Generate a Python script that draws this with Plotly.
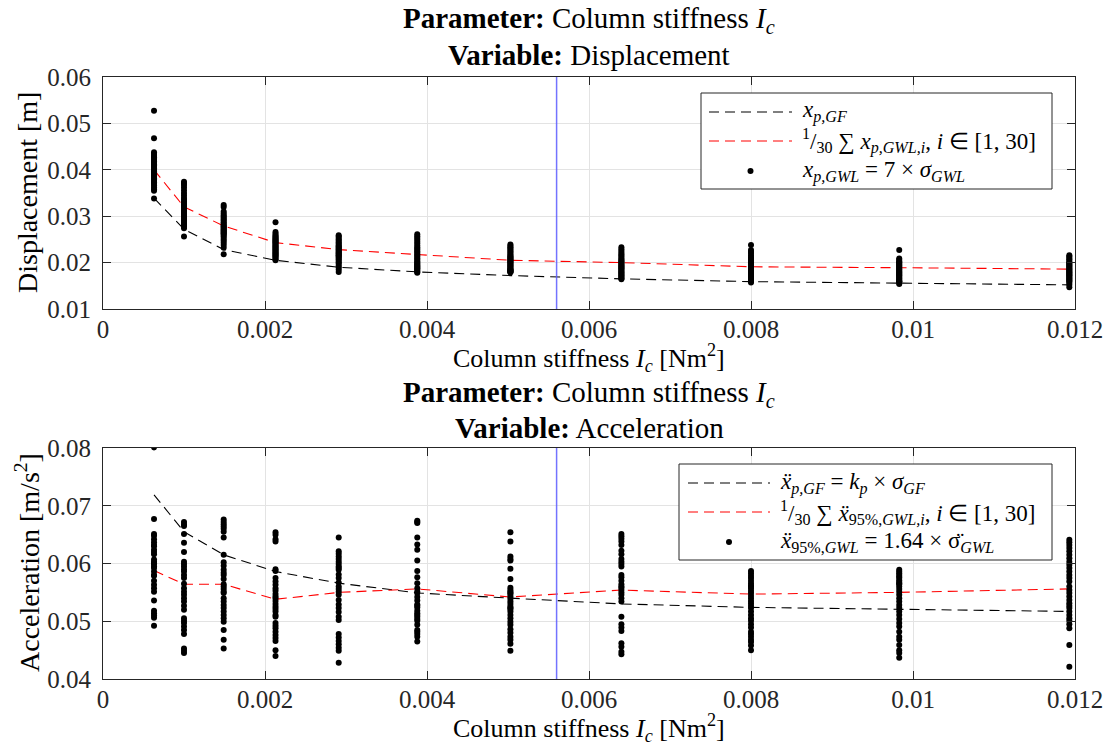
import plotly.graph_objects as go

# ---------------- data ----------------
stiffness = [0.00063, 0.00100, 0.00149, 0.00213, 0.00291, 0.00388, 0.00503, 0.00640, 0.00800, 0.00983, 0.01193]

disp_gf = [0.0339, 0.0272, 0.0228, 0.0205, 0.0190, 0.0180, 0.0172, 0.0165, 0.0159, 0.0155, 0.0152]
disp_mean = [0.0400, 0.0320, 0.0279, 0.0243, 0.0228, 0.0217, 0.0205, 0.0200, 0.0191, 0.0189, 0.0186]

disp_gwl = [
    [0.0527, 0.0468, 0.0438, 0.0434, 0.0430, 0.0427, 0.0424, 0.0421, 0.0418, 0.0415, 0.0412, 0.0409, 0.0406, 0.0403, 0.0400,
     0.0397, 0.0394, 0.0391, 0.0388, 0.0385, 0.0382, 0.0379, 0.0376, 0.0373, 0.0370, 0.0366, 0.0362, 0.0358, 0.0355, 0.0338],
    [0.0374, 0.0371, 0.0367, 0.0362, 0.0356, 0.0350, 0.0345, 0.0340, 0.0336, 0.0332, 0.0329, 0.0326, 0.0323, 0.0320, 0.0317,
     0.0314, 0.0311, 0.0308, 0.0305, 0.0302, 0.0299, 0.0296, 0.0293, 0.0290, 0.0287, 0.0284, 0.0281, 0.0278, 0.0274, 0.0256],
    [0.0324, 0.0320, 0.0310, 0.0306, 0.0302, 0.0299, 0.0296, 0.0293, 0.0290, 0.0287, 0.0284, 0.0281, 0.0279, 0.0277, 0.0275,
     0.0273, 0.0271, 0.0269, 0.0267, 0.0265, 0.0263, 0.0261, 0.0258, 0.0255, 0.0251, 0.0247, 0.0243, 0.0238, 0.0232, 0.0218],
    [0.0287, 0.0266, 0.0262, 0.0259, 0.0256, 0.0254, 0.0252, 0.0250, 0.0248, 0.0246, 0.0244, 0.0242, 0.0240, 0.0238, 0.0236,
     0.0234, 0.0232, 0.0230, 0.0228, 0.0226, 0.0224, 0.0222, 0.0220, 0.0218, 0.0216, 0.0214, 0.0212, 0.0210, 0.0207, 0.0205],
    [0.0259, 0.0256, 0.0253, 0.0250, 0.0247, 0.0244, 0.0241, 0.0238, 0.0236, 0.0234, 0.0232, 0.0230, 0.0228, 0.0226, 0.0224,
     0.0222, 0.0220, 0.0218, 0.0216, 0.0214, 0.0212, 0.0210, 0.0207, 0.0204, 0.0201, 0.0198, 0.0194, 0.0190, 0.0185, 0.0180],
    [0.0261, 0.0257, 0.0253, 0.0249, 0.0245, 0.0241, 0.0237, 0.0233, 0.0230, 0.0227, 0.0224, 0.0221, 0.0218, 0.0215, 0.0212,
     0.0209, 0.0206, 0.0203, 0.0200, 0.0198, 0.0196, 0.0194, 0.0192, 0.0190, 0.0188, 0.0186, 0.0184, 0.0182, 0.0180, 0.0178],
    [0.0239, 0.0236, 0.0233, 0.0230, 0.0227, 0.0224, 0.0221, 0.0218, 0.0215, 0.0213, 0.0211, 0.0209, 0.0207, 0.0205, 0.0203,
     0.0201, 0.0199, 0.0197, 0.0195, 0.0193, 0.0191, 0.0189, 0.0187, 0.0185, 0.0184, 0.0183, 0.0182, 0.0181, 0.0180, 0.0179],
    [0.0233, 0.0229, 0.0225, 0.0221, 0.0218, 0.0215, 0.0212, 0.0209, 0.0206, 0.0204, 0.0202, 0.0200, 0.0198, 0.0196, 0.0194,
     0.0192, 0.0190, 0.0188, 0.0186, 0.0184, 0.0182, 0.0180, 0.0178, 0.0176, 0.0174, 0.0172, 0.0170, 0.0168, 0.0166, 0.0164],
    [0.0238, 0.0227, 0.0223, 0.0219, 0.0215, 0.0211, 0.0208, 0.0205, 0.0202, 0.0199, 0.0197, 0.0195, 0.0193, 0.0191, 0.0189,
     0.0187, 0.0185, 0.0183, 0.0181, 0.0179, 0.0177, 0.0175, 0.0173, 0.0171, 0.0169, 0.0167, 0.0165, 0.0163, 0.0160, 0.0157],
    [0.0227, 0.0209, 0.0206, 0.0203, 0.0201, 0.0199, 0.0197, 0.0195, 0.0193, 0.0191, 0.0189, 0.0187, 0.0185, 0.0183, 0.0181,
     0.0179, 0.0177, 0.0175, 0.0173, 0.0171, 0.0169, 0.0167, 0.0165, 0.0163, 0.0161, 0.0160, 0.0159, 0.0158, 0.0156, 0.0154],
    [0.0216, 0.0213, 0.0210, 0.0207, 0.0204, 0.0201, 0.0199, 0.0197, 0.0195, 0.0193, 0.0191, 0.0189, 0.0187, 0.0185, 0.0183,
     0.0181, 0.0179, 0.0177, 0.0175, 0.0173, 0.0171, 0.0169, 0.0167, 0.0165, 0.0163, 0.0161, 0.0159, 0.0156, 0.0152, 0.0147],
]

acc_gf = [0.0719, 0.0655, 0.0615, 0.0586, 0.0566, 0.0549, 0.0540, 0.0530, 0.0524, 0.0521, 0.0517]
acc_mean = [0.0588, 0.0564, 0.0564, 0.0538, 0.0550, 0.0556, 0.0542, 0.0554, 0.0547, 0.0550, 0.0556]

acc_gwl = [
    [0.0801, 0.0677, 0.0651, 0.0648, 0.0642, 0.0637, 0.0632, 0.0630, 0.0624, 0.0620, 0.0616, 0.0607, 0.0603, 0.0600, 0.0599,
     0.0595, 0.0592, 0.0586, 0.0580, 0.0579, 0.0570, 0.0563, 0.0557, 0.0551, 0.0536, 0.0518, 0.0514, 0.0510, 0.0506, 0.0492],
    [0.0672, 0.0668, 0.0665, 0.0651, 0.0636, 0.0620, 0.0603, 0.0599, 0.0595, 0.0590, 0.0586, 0.0580, 0.0575, 0.0565, 0.0557,
     0.0551, 0.0546, 0.0540, 0.0534, 0.0527, 0.0520, 0.0505, 0.0501, 0.0497, 0.0491, 0.0485, 0.0478, 0.0453, 0.0449, 0.0445],
    [0.0676, 0.0672, 0.0668, 0.0664, 0.0660, 0.0655, 0.0645, 0.0615, 0.0602, 0.0596, 0.0589, 0.0584, 0.0580, 0.0573, 0.0564,
     0.0560, 0.0556, 0.0551, 0.0549, 0.0540, 0.0534, 0.0528, 0.0523, 0.0517, 0.0511, 0.0505, 0.0499, 0.0485, 0.0468, 0.0453],
    [0.0654, 0.0650, 0.0642, 0.0638, 0.0590, 0.0587, 0.0575, 0.0569, 0.0563, 0.0557, 0.0553, 0.0547, 0.0543, 0.0540, 0.0535,
     0.0530, 0.0525, 0.0521, 0.0517, 0.0511, 0.0508, 0.0497, 0.0492, 0.0488, 0.0482, 0.0476, 0.0471, 0.0466, 0.0450, 0.0440],
    [0.0645, 0.0621, 0.0617, 0.0612, 0.0608, 0.0603, 0.0599, 0.0595, 0.0592, 0.0589, 0.0581, 0.0575, 0.0567, 0.0560, 0.0556,
     0.0551, 0.0546, 0.0537, 0.0529, 0.0523, 0.0516, 0.0508, 0.0502, 0.0478, 0.0472, 0.0466, 0.0460, 0.0454, 0.0449, 0.0428],
    [0.0674, 0.0672, 0.0670, 0.0645, 0.0633, 0.0624, 0.0605, 0.0587, 0.0576, 0.0566, 0.0557, 0.0551, 0.0549, 0.0542, 0.0536,
     0.0529, 0.0527, 0.0524, 0.0518, 0.0514, 0.0511, 0.0508, 0.0504, 0.0501, 0.0494, 0.0485, 0.0482, 0.0478, 0.0473, 0.0465],
    [0.0654, 0.0638, 0.0612, 0.0608, 0.0605, 0.0591, 0.0573, 0.0558, 0.0554, 0.0551, 0.0549, 0.0547, 0.0543, 0.0539, 0.0534,
     0.0530, 0.0525, 0.0523, 0.0521, 0.0517, 0.0511, 0.0505, 0.0499, 0.0494, 0.0486, 0.0480, 0.0473, 0.0468, 0.0461, 0.0449],
    [0.0651, 0.0647, 0.0643, 0.0638, 0.0632, 0.0622, 0.0616, 0.0608, 0.0603, 0.0599, 0.0595, 0.0580, 0.0576, 0.0570, 0.0564,
     0.0560, 0.0558, 0.0554, 0.0550, 0.0546, 0.0540, 0.0534, 0.0508, 0.0495, 0.0489, 0.0483, 0.0462, 0.0456, 0.0447, 0.0443],
    [0.0587, 0.0583, 0.0579, 0.0575, 0.0570, 0.0566, 0.0562, 0.0560, 0.0557, 0.0553, 0.0549, 0.0544, 0.0540, 0.0535, 0.0531,
     0.0527, 0.0523, 0.0517, 0.0511, 0.0505, 0.0501, 0.0495, 0.0489, 0.0482, 0.0478, 0.0473, 0.0468, 0.0464, 0.0458, 0.0450],
    [0.0589, 0.0586, 0.0583, 0.0580, 0.0577, 0.0575, 0.0571, 0.0568, 0.0566, 0.0564, 0.0560, 0.0556, 0.0551, 0.0546, 0.0540,
     0.0534, 0.0528, 0.0523, 0.0517, 0.0511, 0.0504, 0.0497, 0.0491, 0.0482, 0.0473, 0.0468, 0.0459, 0.0450, 0.0445, 0.0437],
    [0.0641, 0.0637, 0.0632, 0.0627, 0.0621, 0.0615, 0.0609, 0.0603, 0.0598, 0.0592, 0.0586, 0.0580, 0.0575, 0.0569, 0.0560,
     0.0554, 0.0549, 0.0543, 0.0537, 0.0531, 0.0527, 0.0523, 0.0517, 0.0511, 0.0505, 0.0501, 0.0495, 0.0488, 0.0459, 0.0421],
]

ref_stiffness = 0.0056

x_ticks = [0, 0.002, 0.004, 0.006, 0.008, 0.010, 0.012]
x_ticklabels = ["0", "0.002", "0.004", "0.006", "0.008", "0.01", "0.012"]
disp_ticks = [0.01, 0.02, 0.03, 0.04, 0.05, 0.06]
disp_ticklabels = ["0.01", "0.02", "0.03", "0.04", "0.05", "0.06"]
acc_ticks = [0.04, 0.05, 0.06, 0.07, 0.08]
acc_ticklabels = ["0.04", "0.05", "0.06", "0.07", "0.08"]

disp_legend = [
    "<i>x</i><sub><i>p,GF</i></sub>",
    "<sup>1</sup>/<sub>30</sub> ∑ <i>x</i><sub><i>p,GWL,i</i></sub>, <i>i</i> ∈ [1, 30]",
    "<i>x</i><sub><i>p,GWL</i></sub> = 7 × <i>σ</i><sub><i>GWL</i></sub>",
]
acc_legend = [
    "<i>ẍ</i><sub><i>p,GF</i></sub> = <i>k</i><sub><i>p</i></sub> × <i>σ</i><sub><i>GF</i></sub>",
    "<sup>1</sup>/<sub>30</sub> ∑ <i>ẍ</i><sub>95%,<i>GWL,i</i></sub>, <i>i</i> ∈ [1, 30]",
    "<i>ẍ</i><sub>95%,<i>GWL</i></sub> = 1.64 × σ̈<sub><i>GWL</i></sub>",
]

# ---------------- figure ----------------
FONT = "Liberation Serif"
DASH = "10px,6px"
W, H = 1110, 746

fig = go.Figure()

def scatter_xy(values):
    xs, ys = [], []
    for xv, col in zip(stiffness, values):
        xs += [xv] * len(col)
        ys += col
    return xs, ys

# top subplot
fig.add_trace(go.Scatter(x=stiffness, y=disp_gf, mode="lines", xaxis="x", yaxis="y",
                         line=dict(color="black", width=1.1, dash=DASH), name=disp_legend[0]))
fig.add_trace(go.Scatter(x=stiffness, y=disp_mean, mode="lines", xaxis="x", yaxis="y",
                         line=dict(color="red", width=1.1, dash=DASH), name=disp_legend[1]))
sx, sy = scatter_xy(disp_gwl)
fig.add_trace(go.Scatter(x=sx, y=sy, mode="markers", xaxis="x", yaxis="y",
                         marker=dict(color="black", size=6), name=disp_legend[2]))

# bottom subplot
fig.add_trace(go.Scatter(x=stiffness, y=acc_gf, mode="lines", xaxis="x2", yaxis="y2",
                         line=dict(color="black", width=1.1, dash=DASH), name=acc_legend[0]))
fig.add_trace(go.Scatter(x=stiffness, y=acc_mean, mode="lines", xaxis="x2", yaxis="y2",
                         line=dict(color="red", width=1.1, dash=DASH), name=acc_legend[1]))
sx, sy = scatter_xy(acc_gwl)
fig.add_trace(go.Scatter(x=sx, y=sy, mode="markers", xaxis="x2", yaxis="y2",
                         marker=dict(color="black", size=6), name=acc_legend[2]))

xdom = [103 / W, 1075 / W]
ydom_top = [1 - 309 / H, 1 - 77 / H]
ydom_bot = [1 - 679 / H, 1 - 448 / H]

axis_common = dict(showline=True, linecolor="#262626", linewidth=1, mirror="ticks",
                   ticks="inside", ticklen=8, tickcolor="#262626", automargin=False,
                   showgrid=True, gridcolor="#e3e3e3", gridwidth=1, zeroline=False,
                   tickfont=dict(family=FONT, size=25, color="#262626"))

fig.update_layout(
    width=W, height=H,
    margin=dict(l=0, r=0, t=0, b=0, autoexpand=False),
    paper_bgcolor="white", plot_bgcolor="white",
    font=dict(family=FONT, size=20, color="black"),
    showlegend=False,
    xaxis=dict(domain=xdom, anchor="y", range=[0, 0.012], tickvals=x_ticks, ticktext=x_ticklabels,
               ticklabelstandoff=-2, **axis_common),
    yaxis=dict(domain=ydom_top, anchor="x", range=[0.01, 0.06], tickvals=disp_ticks, ticktext=disp_ticklabels,
               ticklabelstandoff=6, **axis_common),
    xaxis2=dict(domain=xdom, anchor="y2", range=[0, 0.012], tickvals=x_ticks, ticktext=x_ticklabels,
                ticklabelstandoff=-2, **axis_common),
    yaxis2=dict(domain=ydom_bot, anchor="x2", range=[0.04, 0.08], tickvals=acc_ticks, ticktext=acc_ticklabels,
                ticklabelstandoff=6, **axis_common),
)

# reference vertical line
for xr, yr in (("x", "y domain"), ("x2", "y2 domain")):
    fig.add_shape(type="line", xref=xr, yref=yr, x0=ref_stiffness, x1=ref_stiffness, y0=0, y1=1,
                  line=dict(color="rgba(90,90,255,0.85)", width=1.5), layer="above")

def px(xp):
    return xp / W

def py(yp):
    return 1 - yp / H

def text(txt, xp, yp, size, xanchor="center", angle=0):
    fig.add_annotation(text=txt, xref="paper", yref="paper", x=px(xp), y=py(yp),
                       xanchor=xanchor, yanchor="middle", showarrow=False, textangle=angle,
                       font=dict(family=FONT, size=size, color="black"))

xc = (103 + 1075) / 2
# titles
text("<b>Parameter:</b> Column stiffness <i>I</i><sub><i>c</i></sub>", xc, 20, 29)
text("<b>Variable:</b> Displacement", xc, 55, 29)
text("<b>Parameter:</b> Column stiffness <i>I</i><sub><i>c</i></sub>", xc, 394, 29)
text("<b>Variable:</b> Acceleration", xc, 428, 29)
# axis titles
xtitle = "Column stiffness <i>I</i><sub><i>c</i></sub> [Nm<sup>2</sup>]"
text(xtitle, xc, 358, 26)
text(xtitle, xc, 728, 26)
text("Displacement [m]", 27, 193, 28, angle=-90)
text("Acceleration [m/s<sup>2</sup>]", 27, 563, 28, angle=-90)

# custom legends (box, line samples, marker sample, labels)
def legend_box(x0, y0, x1, y1, line_x0, line_x1, text_x, rows, labels):
    fig.add_shape(type="rect", xref="paper", yref="paper", x0=px(x0), x1=px(x1), y0=py(y1), y1=py(y0),
                  line=dict(color="#262626", width=1), fillcolor="white", layer="above")
    colors = ["black", "red"]
    for i in range(2):
        fig.add_shape(type="line", xref="paper", yref="paper", x0=px(line_x0), x1=px(line_x1),
                      y0=py(rows[i]), y1=py(rows[i]), layer="above",
                      line=dict(color=colors[i], width=1.1, dash=DASH))
    cx = (line_x0 + line_x1) / 2
    fig.add_shape(type="circle", xref="paper", yref="paper", x0=px(cx - 3), x1=px(cx + 3),
                  y0=py(rows[2] + 3), y1=py(rows[2] - 3), fillcolor="black",
                  line=dict(color="black", width=0), layer="above")
    for lab, r in zip(labels, rows):
        text(lab, text_x, r, 23, xanchor="left")

legend_box(701, 93, 1052, 189, 709, 792, 800, [112, 141, 171], disp_legend)
legend_box(679, 464, 1052, 560, 688, 770, 778, [483, 512, 542], acc_legend)

fig.write_html("out.html", config={"displayModeBar": False},
               post_script="document.body.style.margin='0';document.body.style.overflow='hidden';")
